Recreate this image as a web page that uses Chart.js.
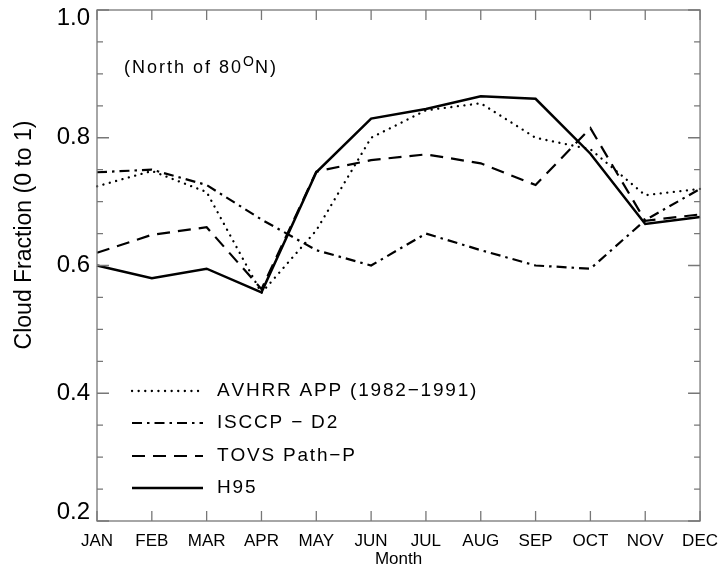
<!DOCTYPE html>
<html>
<head>
<meta charset="utf-8">
<script src="https://cdn.jsdelivr.net/npm/chart.js@4.4.1/dist/chart.umd.min.js"></script>
<style>
  html, body { margin: 0; padding: 0; background: #fff; }
  canvas { display: block; }
</style>
</head>
<body>
<canvas id="cloudChart" width="728" height="570"></canvas>
<script>
// --- data ---
const months = ['JAN', 'FEB', 'MAR', 'APR', 'MAY', 'JUN', 'JUL', 'AUG', 'SEP', 'OCT', 'NOV', 'DEC'];
const avhrr = [0.724, 0.748, 0.715, 0.557, 0.655, 0.800, 0.843, 0.854, 0.800, 0.782, 0.710, 0.720];
const isccp = [0.746, 0.750, 0.726, 0.672, 0.624, 0.600, 0.650, 0.624, 0.600, 0.595, 0.671, 0.720];
const tovs  = [0.620, 0.648, 0.660, 0.563, 0.747, 0.765, 0.774, 0.760, 0.726, 0.815, 0.670, 0.680];
const h95   = [0.600, 0.580, 0.595, 0.558, 0.746, 0.830, 0.845, 0.865, 0.861, 0.775, 0.665, 0.676];
const yTicks = [0.2, 0.4, 0.6, 0.8, 1.0];
const yMinorStep = 0.05;

const seriesNames = ['AVHRR APP (1982\u22121991)', 'ISCCP \u2212 D2', 'TOVS Path\u2212P', 'H95'];

const axisColor = '#777';
const labelFont = '"Liberation Sans", Arial, sans-serif';

function line(label, data, dash, width, cap) {
    return {
        label: label,
        data: data,
        borderColor: '#000',
        borderWidth: width,
        borderDash: dash,
        borderCapStyle: cap || 'butt',
        pointRadius: 0,
        fill: false,
        tension: 0
    };
}

// draw text one character at a time with extra spacing (plot font is wide)
function spacedText(ctx, text, x, y, spacing) {
    for (const ch of text) {
        ctx.fillText(ch, x, y);
        x += ctx.measureText(ch).width + spacing;
    }
    return x;
}

// frame, inward ticks, y labels, titles and the in-plot legend
const decorPlugin = {
    id: 'decor',
    afterDraw(chart) {
        const ctx = chart.ctx;
        const a = chart.chartArea;
        const xs = chart.scales.x;
        const ys = chart.scales.y;
        ctx.save();

        // frame
        ctx.strokeStyle = axisColor;
        ctx.lineWidth = 1.3;
        ctx.strokeRect(a.left, a.top, a.right - a.left, a.bottom - a.top);

        // x ticks (bottom and top)
        ctx.beginPath();
        for (let i = 0; i < months.length; i++) {
            const px = xs.getPixelForValue(i);
            ctx.moveTo(px, a.bottom); ctx.lineTo(px, a.bottom - 10);
            ctx.moveTo(px, a.top); ctx.lineTo(px, a.top + 10);
        }
        // y ticks, major + minor, on both sides
        const nMinor = Math.round((ys.max - ys.min) / yMinorStep);
        for (let k = 0; k <= nMinor; k++) {
            const v = ys.min + k * yMinorStep;
            const py = ys.getPixelForValue(v);
            const len = k % 4 === 0 ? 12 : 6;
            ctx.moveTo(a.left, py); ctx.lineTo(a.left + len, py);
            ctx.moveTo(a.right, py); ctx.lineTo(a.right - len, py);
        }
        ctx.stroke();

        // y tick labels
        ctx.fillStyle = '#000';
        ctx.font = '24px ' + labelFont;
        ctx.textAlign = 'right';
        ctx.textBaseline = 'middle';
        yTicks.forEach(v => {
            let py = ys.getPixelForValue(v);
            py = Math.min(Math.max(py, a.top + 8), a.bottom - 9);
            ctx.fillText(v.toFixed(1), a.left - 7, py);
        });

        // y title
        ctx.save();
        ctx.translate(25, 235);
        ctx.rotate(-Math.PI / 2);
        ctx.textAlign = 'center';
        ctx.font = '23px ' + labelFont;
        ctx.fillText('Cloud Fraction (0 to 1)', 0, 0);
        ctx.restore();

        // x title
        ctx.textAlign = 'center';
        ctx.font = '17px ' + labelFont;
        ctx.fillText('Month', (a.left + a.right) / 2, 559);

        // region note
        ctx.textAlign = 'left';
        ctx.font = '18px ' + labelFont;
        let x = spacedText(ctx, '(North of 80', 124, 68, 2);
        ctx.font = '14px ' + labelFont;
        x = spacedText(ctx, 'O', x, 62, 1);
        ctx.font = '18px ' + labelFont;
        spacedText(ctx, 'N)', x, 68, 2);

        // legend
        const rowY = [391, 423, 456, 488];
        chart.data.datasets.forEach((ds, i) => {
            ctx.beginPath();
            ctx.setLineDash(ds.borderDash || []);
            ctx.lineCap = ds.borderCapStyle;
            ctx.lineWidth = ds.borderWidth;
            ctx.strokeStyle = '#000';
            ctx.moveTo(132, rowY[i]);
            ctx.lineTo(203, rowY[i]);
            ctx.stroke();
            ctx.setLineDash([]);
            ctx.font = '19px ' + labelFont;
            ctx.fillStyle = '#000';
            spacedText(ctx, ds.label, 217, rowY[i], 1.8);
        });

        ctx.restore();
    }
};

new Chart(document.getElementById('cloudChart'), {
    type: 'line',
    data: {
        labels: months,
        datasets: [
            line(seriesNames[0], avhrr, [0.1, 6.5], 2.3, 'round'),
            line(seriesNames[1], isccp, [10, 5, 2.5, 5], 2.2),
            line(seriesNames[2], tovs, [13, 8], 2.2),
            line(seriesNames[3], h95, [], 2.5)
        ]
    },
    options: {
        responsive: false,
        animation: false,
        devicePixelRatio: 1,
        layout: { padding: { top: 10, right: 21, left: 0, bottom: 0 } },
        plugins: {
            legend: { display: false },
            tooltip: { enabled: false }
        },
        scales: {
            x: {
                offset: false,
                grid: { display: false, drawTicks: false },
                border: { display: false },
                ticks: {
                    color: '#000',
                    font: { family: labelFont, size: 17 },
                    padding: 10,
                    maxRotation: 0,
                    autoSkip: false
                },
                afterFit(scale) { scale.height = 49; }
            },
            y: {
                min: 0.2,
                max: 1.0,
                grid: { display: false, drawTicks: false },
                border: { display: false },
                ticks: { display: false, stepSize: 0.2 },
                afterFit(scale) { scale.width = 97; }
            }
        }
    },
    plugins: [decorPlugin]
});
</script>
</body>
</html>
